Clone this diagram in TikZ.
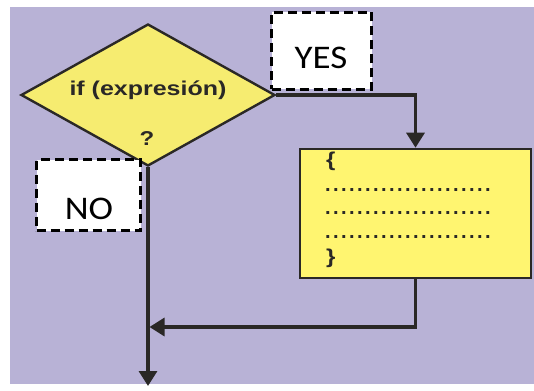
\documentclass[tikz,border=0pt]{standalone}
\usepackage{fontspec}
\setmainfont{Liberation Sans}
\newfontfamily\calib{Carlito}
\usetikzlibrary{shapes.geometric,arrows.meta}
\definecolor{bgpurple}{RGB}{184,178,214}
\definecolor{dyellow}{RGB}{246,236,112}
\definecolor{byellow}{RGB}{255,245,112}
\definecolor{ink}{RGB}{42,40,38}
\newcommand\mydot{.\kern2.44pt}
\newcommand\mydotrow{\mydot\mydot\mydot\mydot\mydot\mydot\mydot\mydot\mydot\mydot\mydot\mydot\mydot\mydot\mydot\mydot\mydot\mydot\mydot\mydot.}
\tikzset{
  conn/.style={draw=ink, line width=3.2pt, -{Triangle[width=18pt,length=15pt]}},
  lblbox/.style={draw=black, fill=white, line width=2.4pt, dash pattern=on 9pt off 5pt, inner sep=0},
  lbltext/.style={font=\calib\fontsize{33}{33}\selectfont, text=black, anchor=base, inner sep=0},
  dtext/.style={font=\bfseries\fontsize{20}{20}\selectfont, text=ink, inner sep=0},
}
\begin{document}
\begin{tikzpicture}[x=1pt,y=-1pt]
\useasboundingbox (0,0) rectangle (534,390);
\fill[bgpurple] (10,7) rectangle (534,384);

\node[diamond, draw=ink, line width=2.4pt, fill=dyellow, minimum width=254pt, minimum height=142pt, inner sep=0] (cond) at (148,95) {};
\node[dtext, anchor=base] (ctext) at (148,96) {\scalebox{1.25}[1]{if (expresión)}};
\node[dtext, anchor=base] (q) at (147,145) {\scalebox{1.2}[1]{?}};

\node[draw=ink, line width=2.6pt, fill=byellow, minimum width=231pt, minimum height=129pt, inner sep=0] (body) at (415.5,213.5) {};
\node[dtext, anchor=base west] (ob) at (326,166) {\scalebox{1.2}[1]{\{}};
\node[dtext, anchor=base west] (d1) at (325,191) {\mydotrow};
\node[dtext, anchor=base west] (d2) at (325,214) {\mydotrow};
\node[dtext, anchor=base west] (d3) at (325,238) {\mydotrow};
\node[dtext, anchor=base west] (cb) at (326,263) {\scalebox{1.2}[1]{\}}};

\coordinate (endpt) at (148,386);
\coordinate (join) at (149.5,327);

\draw[conn] (cond.east) -| (body.north);
\draw[conn] (cond.south) -- (endpt);
\draw[conn] (body.south) |- (join);

\node[lblbox, minimum width=100pt, minimum height=77pt] (yesbox) at (321.5,51) {};
\node[lbltext] (yes) at (321,69) {\scalebox{1.12}[1]{YES}};
\node[lblbox, minimum width=104pt, minimum height=71pt] (nobox) at (88.5,195) {};
\node[lbltext] (no) at (89,219) {\scalebox{1.12}[1]{NO}};
\end{tikzpicture}
\end{document}
